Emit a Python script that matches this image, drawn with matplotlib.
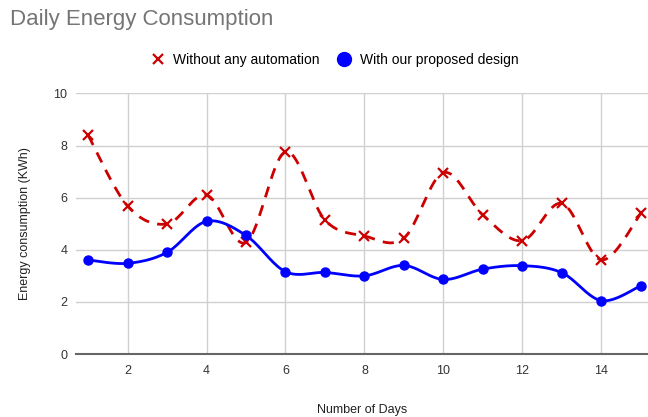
import numpy as np
import matplotlib
matplotlib.use('Agg')
import matplotlib.pyplot as plt
from matplotlib.lines import Line2D

days = np.arange(1, 16)
without_auto = [8.40, 5.68, 4.99, 6.10, 4.28, 7.76, 5.14, 4.53, 4.45, 6.96, 5.33, 4.35, 5.78, 3.61, 5.40]
with_design = [3.61, 3.48, 3.90, 5.09, 4.55, 3.16, 3.13, 3.00, 3.40, 2.86, 3.26, 3.39, 3.12, 2.05, 2.62]


def smooth(x, y, n=20, t=0.5):
    # cardinal spline through the points, only for drawing the curved line
    x = np.asarray(x, float)
    y = np.asarray(y, float)
    px = np.concatenate([[x[0]], x, [x[-1]]])
    py = np.concatenate([[y[0]], y, [y[-1]]])
    xs, ys = [], []
    s = np.linspace(0, 1, n, endpoint=False)
    for i in range(1, len(px) - 2):
        m1x = t * (px[i + 1] - px[i - 1]); m1y = t * (py[i + 1] - py[i - 1])
        m2x = t * (px[i + 2] - px[i]); m2y = t * (py[i + 2] - py[i])
        h00 = 2 * s**3 - 3 * s**2 + 1
        h10 = s**3 - 2 * s**2 + s
        h01 = -2 * s**3 + 3 * s**2
        h11 = s**3 - s**2
        xs.append(h00 * px[i] + h10 * m1x + h01 * px[i + 1] + h11 * m2x)
        ys.append(h00 * py[i] + h10 * m1y + h01 * py[i + 1] + h11 * m2y)
    xs.append([x[-1]]); ys.append([y[-1]])
    return np.concatenate(xs), np.concatenate(ys)


plt.rcParams['font.family'] = ['Liberation Sans', 'DejaVu Sans']
fig = plt.figure(figsize=(6.48, 4.17), dpi=100)
ax = fig.add_axes([0.117, 0.151, 0.883, 0.625])

red = '#cc0000'
blue = '#0000ff'

sx, sy = smooth(days, without_auto)
ax.plot(sx, sy, color=red, lw=2, dashes=(4, 3), zorder=3, clip_on=False)
ax.plot(days, without_auto, 'x', color=red, ms=7, mew=1.6, zorder=4, clip_on=False)
sx, sy = smooth(days, with_design)
ax.plot(sx, sy, color=blue, lw=2, zorder=3, clip_on=False)
ax.plot(days, with_design, 'o', color=blue, ms=6.5, zorder=4, clip_on=False)

ax.set_xlim(0.69, 15.18)
ax.set_ylim(0, 10)
ax.set_xticks([2, 4, 6, 8, 10, 12, 14])
ax.set_yticks([0, 2, 4, 6, 8, 10])
ax.grid(True, color='#d0d0d0', lw=1)
ax.set_axisbelow(True)
for s in ['top', 'right', 'left']:
    ax.spines[s].set_visible(False)
ax.spines['bottom'].set_color('#666666')
ax.spines['bottom'].set_linewidth(1.5)
ax.spines['bottom'].set_zorder(2)
ax.tick_params(length=0, labelsize=9, labelcolor='#333333', pad=8)
ax.tick_params(axis='y', pad=6)

ax.set_xlabel('Number of Days', fontsize=9, color='#222222', labelpad=19)
ax.set_ylabel('Energy consumption (KWh)', fontsize=9, color='#222222', labelpad=16)

fig.text(0.015, 0.953, 'Daily Energy Consumption', fontsize=16, color='#757575', va='center')

handles = [Line2D([], [], ls='none', marker='x', color=red, ms=7, mew=1.6),
           Line2D([], [], ls='none', marker='o', color=blue, ms=10)]
fig.legend(handles, ['Without any automation', 'With our proposed design'],
           loc='center', bbox_to_anchor=(0.515, 0.856), ncol=2, frameon=False,
           fontsize=10, handletextpad=0.5, columnspacing=1.2, handlelength=1.2)

fig.savefig('out.png', dpi=100)
